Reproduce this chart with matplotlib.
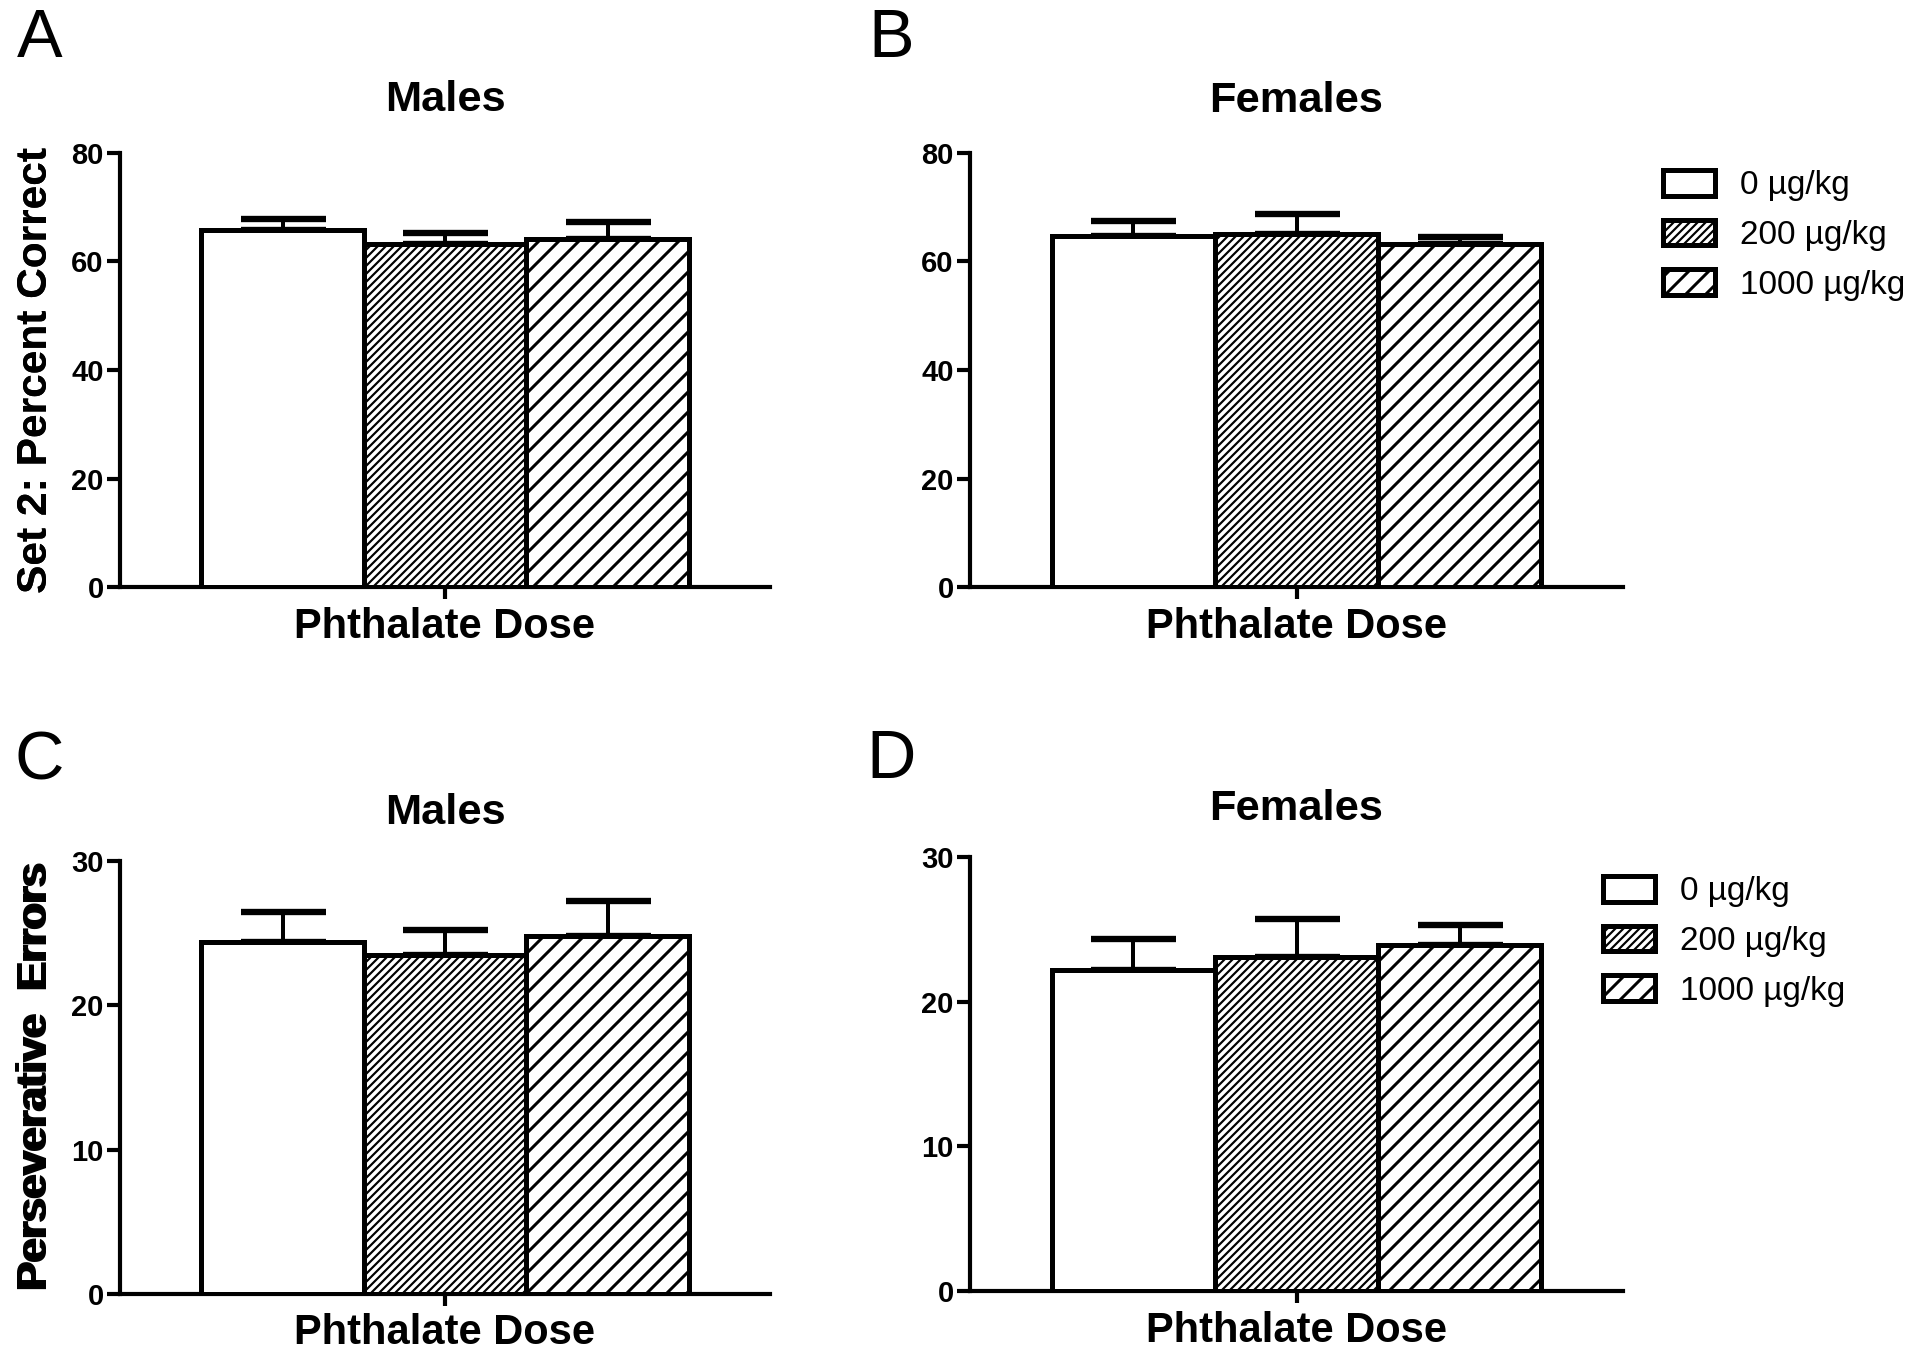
import numpy as np
import matplotlib
matplotlib.use('Agg')
from matplotlib import pyplot as plt

plt.rcParams['font.family'] = ['Liberation Sans', 'DejaVu Sans']
plt.rcParams['hatch.linewidth'] = 1.7
plt.rcParams['hatch.color'] = 'black'

W, H, DPI = 1920, 1360, 120

doses = ['0 µg/kg', '200 µg/kg', '1000 µg/kg']
hatches = ['', '/////', '//']
hatch_widths = [1.0, 1.3, 1.8]

set2_males = [65.8, 63.3, 64.2]
set2_males_err = [2.0, 1.9, 3.1]
set2_females = [64.7, 65.0, 63.2]
set2_females_err = [2.7, 3.8, 1.4]

persev_males = [24.4, 23.5, 24.8]
persev_males_err = [2.1, 1.7, 2.4]
persev_females = [22.2, 23.1, 23.9]
persev_females_err = [2.1, 2.6, 1.4]

panels = [
    # letter, title, ylabel, values, errors, yticks, box px (left, top, right, bottom), title pad, legend anchor px
    ('A', 'Males', 'Set 2: Percent Correct', set2_males, set2_males_err,
     [0, 20, 40, 60, 80], (120, 153, 770, 587), 25, None),
    ('B', 'Females', 'Set 2: Percent Correct', set2_females, set2_females_err,
     [0, 20, 40, 60, 80], (970, 153, 1623, 587), 24.5, (1663, 170)),
    ('C', 'Males', 'Perseverative  Errors', persev_males, persev_males_err,
     [0, 10, 20, 30], (120, 861, 770, 1294), 22, None),
    ('D', 'Females', 'Perseverative  Errors', persev_females, persev_females_err,
     [0, 10, 20, 30], (970, 857, 1623, 1291), 22.5, (1603, 876)),
]

letter_pos = {'A': (17, 57), 'B': (868, 57), 'C': (15, 780), 'D': (866, 778)}

fig = plt.figure(figsize=(W / DPI, H / DPI), dpi=DPI)

for letter, title, ylabel, vals, errs, yticks, box, tpad, leg in panels:
    l, t, r, b = box
    ax = fig.add_axes([l / W, 1 - b / H, (r - l) / W, (b - t) / H])
    x = np.arange(len(vals))
    bars = ax.bar(x, vals, width=1.0, color='white', edgecolor='black',
                  linewidth=3.0, zorder=3)
    for bar, h, hw, lab in zip(bars, hatches, hatch_widths, doses):
        bar.set_hatch(h)
        if hasattr(bar, 'set_hatch_linewidth'):
            bar.set_hatch_linewidth(hw)
        bar.set_label(lab)
    ax.errorbar(x, vals, yerr=[np.zeros(len(errs)), errs], fmt='none',
                ecolor='black', elinewidth=2.4, capsize=25.5, capthick=3.8,
                zorder=2)

    ax.set_xlim(-1.0, 3.0)
    ax.set_ylim(0, yticks[-1])
    ax.set_yticks(yticks)
    ax.set_xticks([1])
    ax.set_xticklabels([''])
    for side in ['top', 'right']:
        ax.spines[side].set_visible(False)
    for side in ['left', 'bottom']:
        ax.spines[side].set_linewidth(2.5)
    ax.tick_params(axis='y', length=7.8, width=2.5, pad=2, labelsize=17.5)
    ax.tick_params(axis='x', length=7.2, width=2.5)
    for lbl in ax.get_yticklabels():
        lbl.set_fontweight('bold')

    ax.set_xlabel('Phthalate Dose', fontsize=25, fontweight='bold', labelpad=1)
    ax.set_ylabel(ylabel, fontsize=25.5, fontweight='bold')
    ax.yaxis.set_label_coords((56 - l) / (r - l), 0.5)
    ax.set_title(title, fontsize=26, fontweight='bold', pad=tpad)

    lx, ly = letter_pos[letter]
    fig.text(lx / W, 1 - ly / H, letter, fontsize=41, va='baseline', ha='left')

    if leg is not None:
        lg = ax.legend(loc='upper left', bbox_to_anchor=(leg[0] / W, 1 - leg[1] / H),
                       bbox_transform=fig.transFigure, frameon=False, fontsize=20,
                       handlelength=1.55, handleheight=0.8, handletextpad=0.75,
                       labelspacing=0.55, borderpad=0, borderaxespad=0)
        for patch, hw in zip(lg.get_patches(), hatch_widths):
            if hasattr(patch, 'set_hatch_linewidth'):
                patch.set_hatch_linewidth(hw)

fig.savefig('out.png', dpi=DPI)
